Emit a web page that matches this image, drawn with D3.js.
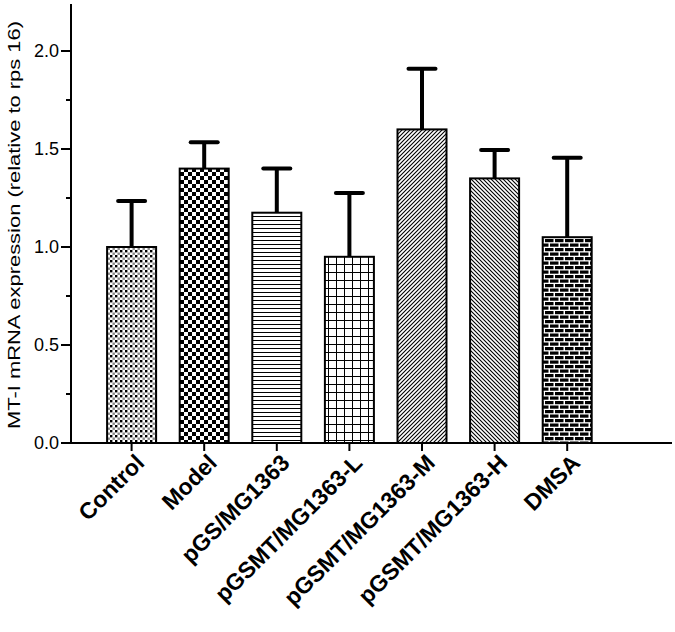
<!DOCTYPE html>
<html><head><meta charset="utf-8">
<script src="https://cdn.jsdelivr.net/npm/d3@7"></script>
<style>body{margin:0;background:#fff}svg{display:block}</style>
</head><body>
<script>
const categories = ["Control","Model","pGS/MG1363","pGSMT/MG1363-L","pGSMT/MG1363-M","pGSMT/MG1363-H","DMSA"];
const means = [1.00, 1.40, 1.175, 0.95, 1.60, 1.35, 1.05];
const errors = [0.235, 0.135, 0.225, 0.325, 0.31, 0.145, 0.405];
const patterns = ["dots","checker","hlines","grid","diagR","diagL","brick"];
const yTicks = [0, 0.5, 1.0, 1.5, 2.0];
const yMinorTicks = [0.25, 0.75, 1.25, 1.75];
const yLabel = "MT-I mRNA expression (relative to rps 16)";

const W = 675, H = 632;
const svg = d3.select("body").append("svg").attr("width", W).attr("height", H);
const defs = svg.append("defs");

function pat(id, w, h) {
  return defs.append("pattern").attr("id", id).attr("patternUnits", "userSpaceOnUse")
    .attr("width", w).attr("height", h);
}
// dots
let p = pat("dots", 5, 5);
p.append("rect").attr("width", 5).attr("height", 5).attr("fill", "#fff");
p.append("rect").attr("x", 0).attr("y", 0).attr("width", 2.4).attr("height", 2.4).attr("fill", "#000");
p.append("rect").attr("x", 2.5).attr("y", 2.5).attr("width", 2.4).attr("height", 2.4).attr("fill", "#888");
// checker
p = pat("checker", 8, 8);
p.append("rect").attr("width", 8).attr("height", 8).attr("fill", "#fff");
p.append("rect").attr("x", 0).attr("y", 0).attr("width", 4).attr("height", 4).attr("fill", "#000");
p.append("rect").attr("x", 4).attr("y", 4).attr("width", 4).attr("height", 4).attr("fill", "#000");
// hlines
p = pat("hlines", 6, 4);
p.append("rect").attr("width", 6).attr("height", 4).attr("fill", "#fff");
p.append("rect").attr("x", 0).attr("y", 0).attr("width", 6).attr("height", 1).attr("fill", "#000");
// grid
p = pat("grid", 8, 8);
p.append("rect").attr("width", 8).attr("height", 8).attr("fill", "#fff");
p.append("rect").attr("x", 0).attr("y", 0).attr("width", 8).attr("height", 1).attr("fill", "#000");
p.append("rect").attr("x", 0).attr("y", 0).attr("width", 1).attr("height", 8).attr("fill", "#000");
// diag /
p = pat("diagR", 4, 4);
p.append("rect").attr("width", 4).attr("height", 4).attr("fill", "#fff");
p.append("path").attr("d", "M-1,1 L1,-1 M0,4 L4,0 M3,5 L5,3").attr("stroke", "#000").attr("stroke-width", 1.1);
// diag \
p = pat("diagL", 4, 4);
p.append("rect").attr("width", 4).attr("height", 4).attr("fill", "#fff");
p.append("path").attr("d", "M-1,3 L1,5 M0,0 L4,4 M3,-1 L5,1").attr("stroke", "#000").attr("stroke-width", 1.1);
// brick
p = pat("brick", 10, 9);
p.append("rect").attr("width", 10).attr("height", 9).attr("fill", "#fff");
p.append("rect").attr("x", 0).attr("y", 0.5).attr("width", 8.5).attr("height", 3.2).attr("fill", "#000");
p.append("rect").attr("x", 5).attr("y", 5).attr("width", 8.5).attr("height", 3.2).attr("fill", "#000");
p.append("rect").attr("x", -5).attr("y", 5).attr("width", 8.5).attr("height", 3.2).attr("fill", "#000");

const x0 = 71, y0 = 443;
const y = d3.scaleLinear().domain([0, 2]).range([y0, 51]);
const x = d3.scaleBand().domain(categories).range([95.3, 603.5]).paddingInner(0.325).paddingOuter(0.1625);

// bars
const g = svg.append("g");
categories.forEach((c, i) => {
  const cx = x(c) + x.bandwidth() / 2;
  g.append("line").attr("x1", cx).attr("x2", cx).attr("y1", y(means[i])).attr("y2", y(means[i] + errors[i]))
    .attr("stroke", "#000").attr("stroke-width", 4);
  g.append("line").attr("x1", cx - 13.5).attr("x2", cx + 13.5).attr("y1", y(means[i] + errors[i])).attr("y2", y(means[i] + errors[i]))
    .attr("stroke", "#000").attr("stroke-width", 4).attr("stroke-linecap", "round");
  g.append("rect").attr("x", x(c)).attr("y", y(means[i])).attr("width", x.bandwidth())
    .attr("height", y0 - y(means[i])).attr("fill", `url(#${patterns[i]})`)
    .attr("stroke", "#000").attr("stroke-width", 2);
});

// y axis
const ya = svg.append("g").attr("transform", `translate(${x0},0)`);
ya.append("line").attr("x1", 0).attr("x2", 0).attr("y1", 4).attr("y2", y0 + 1).attr("stroke", "#000").attr("stroke-width", 2);
ya.selectAll(".maj").data(yTicks).enter().append("line")
  .attr("x1", -10).attr("x2", 0).attr("y1", d => y(d)).attr("y2", d => y(d)).attr("stroke", "#000").attr("stroke-width", 2);
ya.selectAll(".min").data(yMinorTicks).enter().append("line")
  .attr("x1", -5).attr("x2", 0).attr("y1", d => y(d)).attr("y2", d => y(d)).attr("stroke", "#000").attr("stroke-width", 2);
ya.selectAll(".lab").data(yTicks).enter().append("text")
  .attr("x", -12).attr("y", d => y(d)).attr("dy", "0.36em").attr("text-anchor", "end")
  .attr("font-family", "Liberation Sans, Arial, sans-serif").attr("font-size", 18)
  .text(d => d.toFixed(1));

// x axis
svg.append("line").attr("x1", x0 - 1).attr("x2", 672).attr("y1", y0).attr("y2", y0).attr("stroke", "#000").attr("stroke-width", 2);
const xaxis = svg.append("g").attr("transform", `translate(0,${y0})`)
  .call(d3.axisBottom(x).tickSize(8).tickFormat(""));
xaxis.select(".domain").remove();
xaxis.selectAll(".tick line").attr("stroke", "#000").attr("stroke-width", 2);

categories.forEach(c => {
  const cx = x(c) + x.bandwidth() / 2;
  svg.append("text").attr("transform", `translate(${cx + 2},${y0 + 9}) rotate(-45)`)
    .attr("text-anchor", "end").attr("dy", "0.75em")
    .attr("font-family", "Liberation Sans, Arial, sans-serif").attr("font-size", 23).attr("font-weight", "bold")
    .text(c);
});

svg.append("text").attr("transform", `translate(20,225) rotate(-90)`)
  .attr("text-anchor", "middle")
  .attr("font-family", "Liberation Sans, Arial, sans-serif").attr("font-size", 17)
  .attr("textLength", 408).attr("lengthAdjust", "spacingAndGlyphs")
  .text(yLabel);
</script>
</body></html>
